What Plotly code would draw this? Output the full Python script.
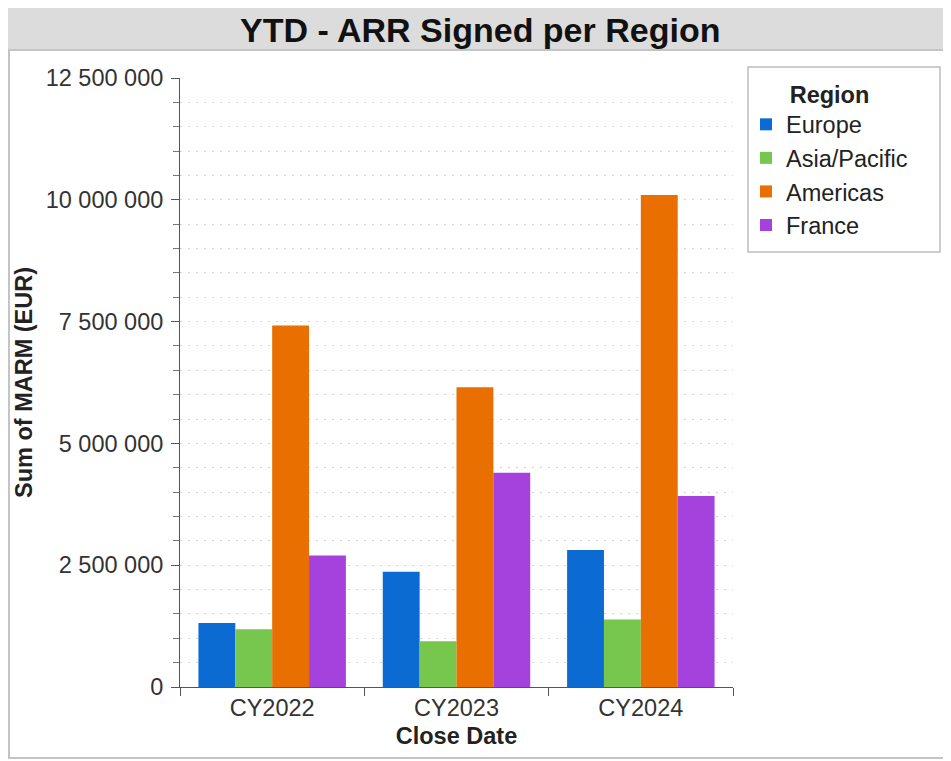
import plotly.graph_objects as go

# ---- data ----
years = ["CY2022", "CY2023", "CY2024"]
regions = ["Europe", "Asia/Pacific", "Americas", "France"]
europe = [1315000, 2365000, 2810000]
asia_pacific = [1185000, 940000, 1385000]
americas = [7420000, 6150000, 10100000]
france = [2700000, 4400000, 3920000]
series_values = [europe, asia_pacific, americas, france]
colors = ["#0b6bd2", "#77c64e", "#e96f00", "#a542de"]

y_tick_vals = [0, 2500000, 5000000, 7500000, 10000000, 12500000]
y_tick_text = ["0", "2 500 000", "5 000 000", "7 500 000", "10 000 000", "12 500 000"]

# ---- layout geometry (pixels, in reference-window coordinates) ----
OFF = 8  # page body margin offset
WIN_W, WIN_H = 951, 761
W, H = WIN_W - OFF, WIN_H - OFF
PLOT_L, PLOT_R, PLOT_T, PLOT_B = 180, 733, 78, 687  # plot area in window px
L = PLOT_L - OFF
T = PLOT_T - OFF
R = W - (PLOT_R - OFF)
B = H - (PLOT_B - OFF)
PW, PH = PLOT_R - PLOT_L, PLOT_B - PLOT_T


def px(x):
    return (x - PLOT_L) / PW


def py(y):
    return (PLOT_B - y) / PH


FONT = "Liberation Sans, Arial, sans-serif"
FS = 23.5

fig = go.Figure()
for name, vals, col in zip(regions, series_values, colors):
    fig.add_trace(go.Bar(name=name, x=years, y=vals, marker=dict(color=col, line=dict(width=0))))

shapes = [
    # title bar
    dict(type="rect", xref="paper", yref="paper", x0=px(0), x1=px(WIN_W + 2), y0=py(-2), y1=py(50),
         fillcolor="#dcdcdc", line=dict(color="#c9c9c9", width=1), layer="below"),
    # outer frame
    dict(type="rect", xref="paper", yref="paper", x0=px(OFF + 1), x1=px(945), y0=py(50), y1=py(758),
         fillcolor="rgba(0,0,0,0)", line=dict(color="#c4c4c4", width=2), layer="below"),
    # legend box
    dict(type="rect", xref="paper", yref="paper", x0=px(748), x1=px(940), y0=py(67), y1=py(252),
         fillcolor="rgba(0,0,0,0)", line=dict(color="#bdbdbd", width=1.5), layer="below"),
]

fig.update_layout(
    width=W, height=H,
    margin=dict(l=L, r=R, t=T, b=B, autoexpand=False),
    paper_bgcolor="white", plot_bgcolor="white",
    font=dict(family=FONT, size=FS, color="#333333"),
    barmode="group", bargap=0.2, bargroupgap=0,
    showlegend=True,
    legend=dict(
        x=px(746), y=py(72), xanchor="left", yanchor="top",
        bgcolor="rgba(0,0,0,0)", borderwidth=0,
        font=dict(family=FONT, size=FS, color="#222222"),
        title=dict(text="<b>Region</b>", side="top center", font=dict(family=FONT, size=FS, color="#222222")),
        tracegroupgap=0, itemclick=False,
    ),
    shapes=shapes,
    annotations=[
        dict(text="<b>YTD - ARR Signed per Region</b>", xref="paper", yref="paper",
             x=px(480), y=py(30), xanchor="center", yanchor="middle", showarrow=False,
             font=dict(family=FONT, size=34, color="#111111")),
    ],
    xaxis=dict(
        type="category", showline=True, linecolor="#555555", linewidth=1,
        ticks="outside", tickson="boundaries", ticklen=8, tickcolor="#555555",
        showgrid=False, tickfont=dict(size=FS, color="#333333"),
        title=dict(text="<b>Close Date</b>", standoff=7, font=dict(size=FS, color="#222222")),
    ),
    yaxis=dict(
        range=[0, 12500000], showline=True, linecolor="#555555", linewidth=1,
        tickvals=y_tick_vals, ticktext=y_tick_text,
        ticks="outside", ticklen=8, tickcolor="#555555",
        showgrid=True, gridcolor="#d4d4d4", griddash="2px,6px", gridwidth=1,
        zeroline=False, tickfont=dict(size=FS, color="#333333"), ticklabelstandoff=3,
        minor=dict(dtick=500000, tick0=0, ticks="outside", ticklen=6, tickcolor="#777777",
                   showgrid=True, gridcolor="#d4d4d4", griddash="2px,6px", gridwidth=1),
        title=dict(text="<b>Sum of MARM (EUR)</b>", standoff=6, font=dict(size=FS, color="#222222")),
    ),
)

fig.write_html("out.html")
